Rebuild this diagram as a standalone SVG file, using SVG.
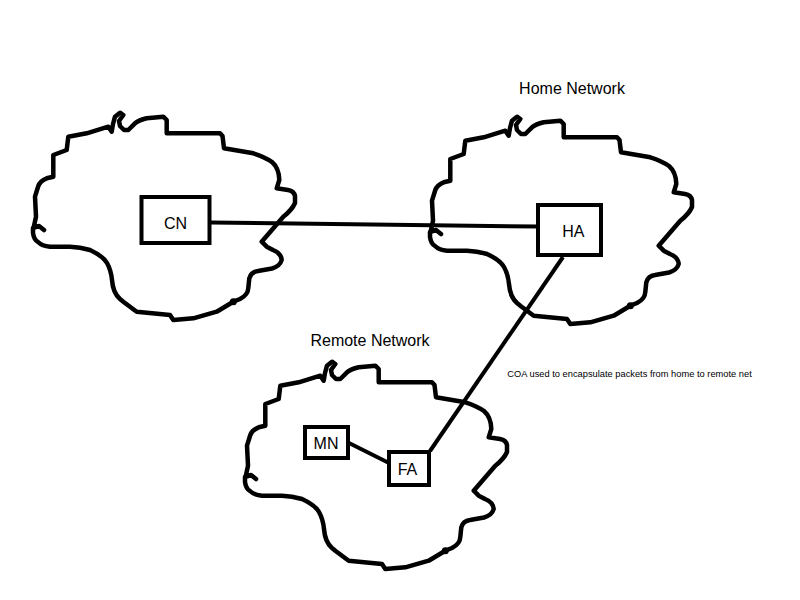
<svg xmlns="http://www.w3.org/2000/svg" xmlns:xlink="http://www.w3.org/1999/xlink" width="800" height="600" viewBox="0 0 800 600">
<style>
.cloud{fill:none;stroke:#000;stroke-width:4.5;stroke-linejoin:round;stroke-linecap:round}
.box{fill:#fff;stroke:#000;stroke-width:4}
.lbl{font-family:"Liberation Sans",Arial,sans-serif;font-size:16px;fill:#000}
.small{font-family:"Liberation Sans",Arial,sans-serif;font-size:9.3px;fill:#000}
.conn{stroke:#000;stroke-width:4;fill:none}
</style>
<defs>
<g id="cloudShape">
<path class="cloud" d="M44,230 L39,226 L33,228 L33,233 Q34,240 38,242 Q42,246 50,246.7 L70,246.7 Q80,247 90,250 Q103,256 107,263 Q111,270 112,280 Q113,293 120,299 L123.3,301.7 L136.7,311.7 L170,315 L173.3,320 L193.3,318.3 L216.7,311.7 L233.3,301.7 L240,299 Q248,295 248.3,288 L249.3,278.3 Q251,272 258,271 L272,268.5 Q280,266 281.7,260 Q281,253 273,250 L266.7,246.7 L261.7,241.7 L283.3,216.7 Q292,210 295,203 L295,196 Q294,191 288,190 L276.7,188.3 L279.3,180 Q279,168 272,162 Q265,157 253.3,153.3 L224,148.3 L222.5,136 L220,133.3 L166.7,133.3 L166.7,120 L163.3,116.7 L146.7,118.3 Q139,120 135,123.3 L128.3,130 L124,130 L120,126 L119,121 L123.3,115 L120,112.7 L115,116.7 L113,124 L111.7,131.7 L108.3,126.7 L86.7,133.3 L68.3,136.7 L66.7,150 L53.3,155 L53.3,176.7 L46.7,178.3 Q40,181 38.3,186 L35,196.7 L36,216.7 L34,226"/>
<circle cx="233.3" cy="301.7" r="3.5" fill="#000"/>
</g>
</defs>
<g id="cn-network"><use xlink:href="#cloudShape"/></g>
<g id="home-network"><use xlink:href="#cloudShape" transform="translate(397,4)"/><text class="lbl" x="572" y="93.5" text-anchor="middle">Home Network</text></g>
<g id="remote-network"><use xlink:href="#cloudShape" transform="translate(212,249)"/><text class="lbl" x="370" y="345.5" text-anchor="middle">Remote Network</text></g>
<g id="connectors">
<line class="conn" x1="211" y1="222.5" x2="538" y2="226.5"/>
<line class="conn" x1="563" y1="257" x2="430" y2="451"/>
<line class="conn" x1="349" y1="443" x2="388" y2="462.5"/>
</g>
<g id="cn"><rect class="box" x="141.5" y="197" width="68" height="46"/><text class="lbl" x="175.5" y="229.3" text-anchor="middle">CN</text></g>
<g id="ha"><rect class="box" x="538" y="205" width="63" height="50"/><text class="lbl" x="573.3" y="237.3" text-anchor="middle">HA</text></g>
<g id="mn"><rect class="box" x="305" y="427" width="43" height="31"/><text class="lbl" x="326" y="449.3" text-anchor="middle">MN</text></g>
<g id="fa"><rect class="box" x="389" y="452" width="40" height="33"/><text class="lbl" x="407.5" y="475" text-anchor="middle">FA</text></g>
<text class="small" x="507.3" y="377">COA used to encapsulate packets from home to remote net</text>
</svg>
